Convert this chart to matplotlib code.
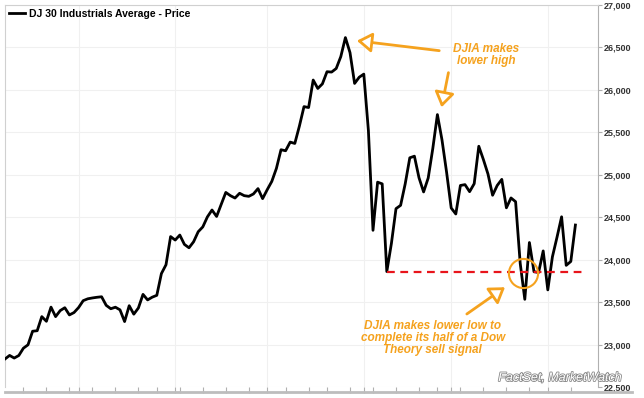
import numpy as np
import pandas as pd
import matplotlib
matplotlib.use("Agg")
import matplotlib.pyplot as plt
import matplotlib.patheffects as pe
from matplotlib.lines import Line2D
from matplotlib.patches import FancyArrowPatch

plt.rcParams['font.family'] = ['Liberation Sans', 'DejaVu Sans']

# trading days Oct 10 2017 - Apr 10 2018
holidays = ['2017-11-23', '2017-12-25', '2018-01-01', '2018-01-15', '2018-02-19', '2018-03-30']
dates = pd.bdate_range('2017-10-10', '2018-04-10')
dates = dates[~dates.isin(pd.to_datetime(holidays))]

djia = [
    22830, 22872, 22841, 22871, 22957, 22997, 23157, 23163, 23329, 23274,
    23441, 23329, 23400, 23434, 23349, 23377,
    23436, 23517, 23539, 23549, 23557, 23563, 23462, 23422, 23440, 23409,
    23271, 23458, 23358, 23431, 23591, 23526, 23558, 23580, 23836, 23940, 24272,
    24231, 24290, 24180, 24140, 24211, 24329, 24386, 24504, 24585, 24509,
    24651, 24792, 24754, 24726, 24782, 24754, 24746, 24774, 24837, 24719,
    24824, 24922, 25075, 25295, 25283, 25385, 25369, 25574, 25803, 25792,
    26116, 26017, 26071, 26214, 26210, 26252, 26392, 26616, 26439, 26076, 26149,
    26186, 25521, 24346, 24913, 24893, 23860, 24191, 24601, 24640, 24893,
    25200, 25219, 24965, 24798, 24962, 25310, 25709, 25410, 25029,
    24609, 24538, 24874, 24884, 24801, 24895, 25336, 25179, 25008, 24759,
    24874, 24946, 24611, 24727, 24683, 23958, 23533, 24202, 23858, 23849, 24103,
    23644, 24033, 24264, 24505, 23933, 23979, 24408,
]
low_level = 23860
yticks = np.arange(22500, 27001, 500)

orange = '#f5a21e'
grey = '#b0b0b0'

pos = np.arange(len(dates))
month_start = [i for i in range(1, len(dates)) if dates[i].month != dates[i - 1].month]
week_start = [i for i in range(1, len(dates)) if dates[i].weekday() < dates[i - 1].weekday()]

fig = plt.figure(figsize=(6.44, 3.98), dpi=100)
ax = fig.add_axes([5 / 644, 1 - 387 / 398, 593 / 644, 382 / 398])

ax.plot(pos, djia, color='black', lw=2, label='DJ 30 Industrials Average - Price', zorder=3)

ax.set_xlim(0, 593 / 4.6)
ax.set_ylim(22500, 27000)

ax.yaxis.tick_right()
ax.set_yticks(yticks)
ax.set_yticklabels(['{:,}'.format(v) for v in yticks], fontsize=6.5, fontweight='bold', color='#333333')
ax.tick_params(axis='y', direction='out', length=3, width=0.8, color=grey, pad=1)
ax.set_xticks(month_start)
ax.set_xticks(week_start, minor=True)
ax.set_xticklabels([])
ax.tick_params(axis='x', which='both', direction='out', length=4, width=0.8, color=grey)

ax.grid(True, axis='y', color='#f0f0f0', lw=0.8)
ax.grid(True, axis='x', which='major', color='#f0f0f0', lw=0.8)
ax.set_axisbelow(True)

for s in ['left', 'top']:
    ax.spines[s].set_color('#d0d0d0')
ax.spines['right'].set_color(grey)
ax.spines['bottom'].set_visible(False)

fig.add_artist(Line2D([5 / 644, 632 / 644], [1 - 392 / 398] * 2, color='#bdbdbd', lw=2))

leg = ax.legend(loc='upper left', frameon=False, handlelength=1.6, handletextpad=0.4,
                borderaxespad=0.25, borderpad=0.1, prop={'size': 7.5, 'weight': 'bold'})

# lower low reference line
ax.plot([pos[djia.index(low_level)], 125.7], [low_level, low_level], color='#e8141b',
        lw=1.6, ls=(0, (3.5, 2.5)), zorder=4)
ax.plot([112.7], [23847], marker='o', ms=21, mfc='none', mec=orange, mew=1.5, zorder=5)

txt = dict(color=orange, fontsize=8.5, fontweight='bold', fontstyle='italic', ha='center', va='center')
ax.text(104.6, 26411, 'DJIA makes\nlower high', linespacing=1.1, **txt)
ax.text(93.0, 23077, 'DJIA makes lower low to\ncomplete its half of a Dow\nTheory sell signal',
        linespacing=1.05, **txt)

for tail, tip in [((94.4, 26462), (76.5, 26579)),
                  ((96.4, 26203), (94.9, 25795)),
                  ((100.4, 23360), (108.7, 23675))]:
    ax.add_patch(FancyArrowPatch(tail, tip, arrowstyle='-|>,head_length=0.6,head_width=0.4',
                                 mutation_scale=15, lw=2, ec=orange, fc='white', zorder=6,
                                 shrinkA=0, shrinkB=0))

fig.text(622 / 644, 1 - 378 / 398, 'FactSet, MarketWatch', ha='right', va='center',
         fontsize=9, fontstyle='italic', color='white',
         path_effects=[pe.withStroke(linewidth=1.2, foreground='#8a8a8a')])

fig.savefig('out.png', dpi=100)
